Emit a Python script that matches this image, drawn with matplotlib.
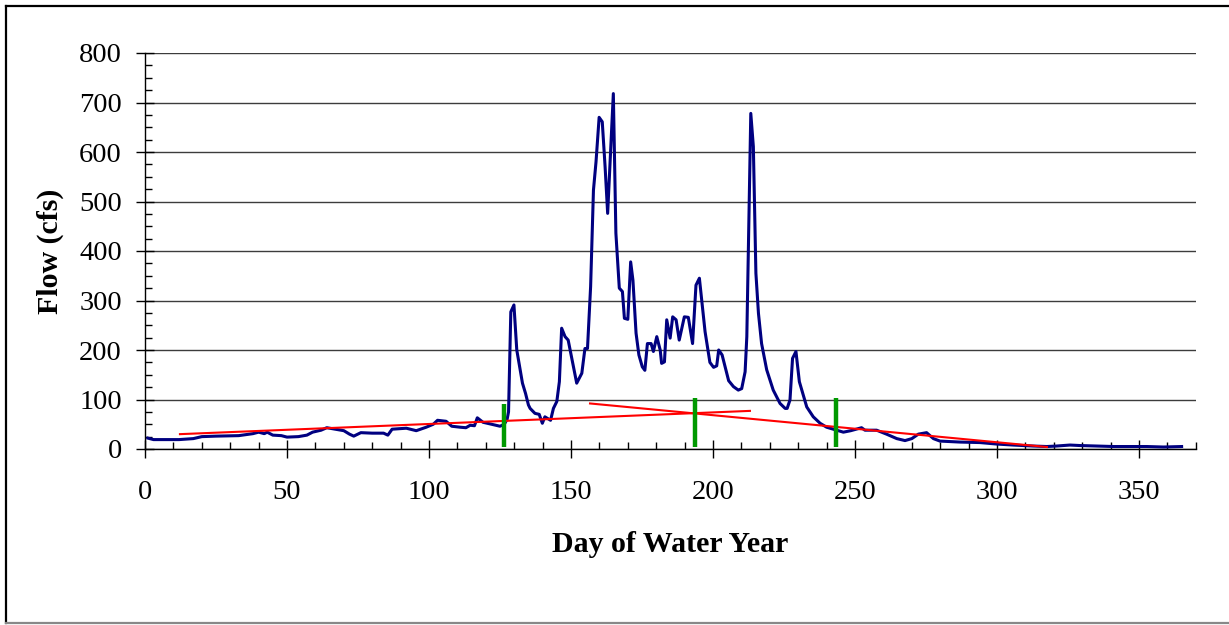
import numpy as np
import matplotlib
matplotlib.use("Agg")
import matplotlib.pyplot as plt
from matplotlib.ticker import MultipleLocator
from matplotlib.lines import Line2D

plt.rcParams['font.family'] = ['Liberation Serif', 'DejaVu Serif']

# daily flow (day of water year, cfs)
days = [1, 3, 12, 17, 20, 25, 33, 38, 40, 42, 43, 45, 48, 50, 54, 57, 59, 62, 64, 67,
        70, 72, 73.5, 76, 80, 84, 85.5, 87, 92, 95.5, 99, 101.5, 103, 106, 108, 111, 113,
        114.5, 116, 117, 119, 122, 125, 126.5, 127.5, 128, 128.8, 129.9, 130.9, 132.9,
        134, 135, 135.6, 137.3, 138.8, 139.9, 140.8, 142.8, 143.8, 145, 145.9, 146.7,
        147.9, 149, 152, 153.8, 154.9, 155.8, 156.9, 157.9, 158.8, 159.9, 161, 162,
        162.9, 164.9, 165.8, 167, 168.1, 168.8, 170, 171, 171.8, 172.9, 173.9, 175.1,
        176, 176.9, 178.2, 179, 180.2, 181.4, 181.9, 182.9, 183.7, 184.9, 185.8, 187,
        188.1, 189.9, 191.3, 192.8, 194, 195.2, 197.2, 198.9, 200.2, 201.3, 202, 203.2,
        205.5, 207.2, 208.9, 210.1, 211.3, 211.9, 213.3, 214.2, 215.1, 216, 217.1,
        218.9, 221.2, 223.6, 225.4, 226.1, 227.1, 228, 229.2, 230.4, 233, 235.3, 237.7,
        240, 242.4, 245.9, 248.5, 252.3, 253.5, 257.6, 261.1, 264.7, 267.6, 270, 272.3,
        275.2, 277.6, 279.9, 287, 294, 299.9, 305.7, 312.7, 317.5, 321, 325.7, 329.2,
        335.1, 341, 352.7, 358.6, 365]
flow = [22, 19, 19, 21, 25, 26, 27, 31, 34, 31, 34, 28, 27, 24, 25, 28, 34, 38, 43, 40,
        37, 30, 26, 33, 32, 32, 28, 40, 42, 37, 44, 50, 58, 56, 46, 44, 43,
        48, 47, 63, 54, 50, 46, 50, 60, 75, 277, 291, 200, 133,
        112, 89, 82, 72, 70, 52, 65, 58, 82, 96, 136, 244,
        227, 220, 133, 153, 203, 203, 328, 523, 580, 670, 661, 570,
        476, 718, 436, 325, 318, 264, 262, 378, 341, 234, 190, 166,
        159, 213, 213, 197, 227, 200, 173, 176, 261, 224, 267, 261,
        220, 267, 266, 213, 331, 345, 237, 175, 165, 168, 200, 190,
        138, 126, 119, 122, 156, 227, 678, 611, 355, 274, 213,
        160, 119, 92, 82, 82, 99, 183, 197, 136, 85, 65, 52,
        44, 40, 34, 37, 43, 38, 38, 30, 21, 17, 21, 30,
        33, 21, 16, 14, 13, 10, 8, 6, 5, 6, 8, 7,
        6, 5, 5, 4, 5]

# baseflow separation lines
rise_x = [12.3, 213]
rise_y = [30, 77]
fall_x = [156.7, 317.6]
fall_y = [92, 4]

# hydrograph markers (day, bottom, top)
mark_days = [126.4, 193.7, 243.2]
mark_lo = [5, 5, 5]
mark_hi = [91, 103, 103]

fig = plt.figure(figsize=(12.29, 6.25), dpi=100)
ax = fig.add_axes([0.118, 0.2816, 0.855, 0.6336])

ax.yaxis.grid(True, color='#3c3c3c', lw=1.0)
ax.set_axisbelow(True)

ax.plot(days, flow, color='#000080', lw=2.2, zorder=3)
ax.plot(rise_x, rise_y, color='#ff0000', lw=1.5, zorder=4)
ax.plot(fall_x, fall_y, color='#ff0000', lw=1.5, zorder=4)
ax.vlines(mark_days, mark_lo, mark_hi, color='#009900', lw=3.2, zorder=5)

ax.set_xlim(0, 370)
ax.set_ylim(0, 800)
ax.xaxis.set_major_locator(MultipleLocator(50))
ax.xaxis.set_minor_locator(MultipleLocator(10))
ax.yaxis.set_major_locator(MultipleLocator(100))
ax.yaxis.set_minor_locator(MultipleLocator(25))
ax.set_xticks([0, 50, 100, 150, 200, 250, 300, 350])

ax.tick_params(which='major', direction='inout', length=12.5, width=1.0, labelsize=20.5)
ax.tick_params(which='minor', direction='in', length=4.8, width=1.0)
ax.tick_params(axis='x', which='major', pad=16)
ax.tick_params(axis='y', which='major', pad=10.5)

for s in ['top', 'right']:
    ax.spines[s].set_visible(False)
for s in ['left', 'bottom']:
    ax.spines[s].set_linewidth(1.0)

ax.set_xlabel('Day of Water Year', fontsize=21.5, fontweight='bold', labelpad=19)
ax.set_ylabel('Flow (cfs)', fontsize=21.5, fontweight='bold', labelpad=11)

# outer chart border
fig.add_artist(Line2D([0.0049, 0.0049], [0.0035, 0.9905], color='black', lw=1.6))
fig.add_artist(Line2D([0.0049, 1.0], [0.9905, 0.9905], color='black', lw=1.6))
fig.add_artist(Line2D([0.0049, 1.0], [0.0035, 0.0035], color='#888888', lw=1.6))

fig.savefig('out.png', dpi=100)
